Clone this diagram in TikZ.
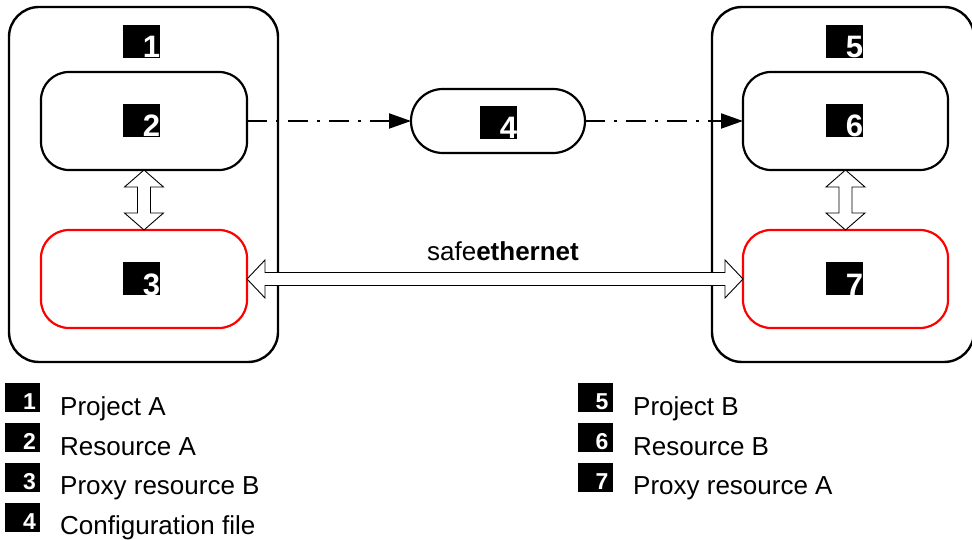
\documentclass[tikz,border=0pt]{standalone}
\usepackage{fontspec}
\setmainfont{Liberation Sans}
\usetikzlibrary{arrows.meta,calc}
\newcommand\bnum[1]{\makebox[37pt][r]{#1}}
\newcommand\lnum[1]{\makebox[35pt][r]{#1\hspace{4pt}}}
\begin{document}
\begin{tikzpicture}[x=1pt,y=-1pt,
  outerbox/.style={draw=black, line width=2.4pt, rounded corners=30pt, inner sep=0pt, outer sep=0pt, minimum height=355pt},
  innerbox/.style={draw=black, line width=2.2pt, rounded corners=28pt, inner sep=0pt, outer sep=0pt, minimum width=206pt, minimum height=98pt},
  proxybox/.style={innerbox, draw=red},
  filebox/.style={draw=black, line width=2.2pt, rounded corners=31.9pt, inner sep=0pt, outer sep=0pt, minimum width=174pt, minimum height=64pt},
  bignum/.style={fill=black, text=white, inner sep=0pt, outer sep=0pt, minimum width=37pt, minimum height=33pt, text height=33pt, text depth=0pt, font=\fontsize{31}{31}\selectfont\bfseries},
  legnum/.style={fill=black, text=white, inner sep=0pt, outer sep=0pt, minimum width=35pt, minimum height=29pt, text height=26pt, text depth=3pt, font=\fontsize{23}{23}\selectfont\bfseries},
  legtext/.style={anchor=base west, inner sep=0pt, font=\fontsize{26}{30}\selectfont},
  flow/.style={line width=2pt, dash pattern=on 20pt off 9pt on 3pt off 9pt, -{Triangle[length=22pt,width=15pt]}},
  hollow/.style={draw=black, fill=white, line width=0.9pt, line join=miter}
]
\useasboundingbox (0,0) rectangle (972,540);

% outer project boxes
\node[outerbox, minimum width=269pt] (p1) at (143.5,184.5) {};
\node[outerbox, minimum width=262pt] (p5) at (843,184.5) {};

% inner boxes
\node[innerbox] (b2) at (144,121) {};
\node[proxybox] (b3) at (144,279) {};
\node[innerbox, minimum width=205pt] (b6) at (845.5,121) {};
\node[proxybox, minimum width=205pt] (b7) at (845.5,279) {};
\node[filebox] (b4) at (498,121) {};

% number labels
\node[bignum] (n1) at (141.5,41.5) {\bnum{1}};
\node[bignum] (n2) at (141.5,120.5) {\bnum{2}};
\node[bignum] (n3) at (141.5,278.5) {\bnum{3}};
\node[bignum] (n4) at (498.5,122.5) {\bnum{4}};
\node[bignum] (n5) at (844.5,41.5) {\bnum{5}};
\node[bignum] (n6) at (844.5,120.5) {\bnum{6}};
\node[bignum] (n7) at (844.5,278.5) {\bnum{7}};

% dash-dot flow
\draw[flow] (b2.east) -- (b4.west);
\draw[flow] (b4.east) -- (b6.west);

% vertical hollow double arrows
\draw[hollow] (b2.south) -- ++(19.5,17) -- ++(-13,0) -- ++(0,26) -- ++(13,0) -- (b3.north)
  -- ++(-19.5,-17) -- ++(13,0) -- ++(0,-26) -- ++(-13,0) -- cycle;
\draw[hollow] (b6.south) -- ++(19.5,17) -- ++(-13,0) -- ++(0,26) -- ++(13,0) -- (b7.north)
  -- ++(-19.5,-17) -- ++(13,0) -- ++(0,-26) -- ++(-13,0) -- cycle;

% safeethernet hollow double arrow
\draw[hollow] (b3.east) -- ++(18,-19) -- ++(0,12.5) -- ($(b7.west)+(-18,-6.5)$) -- ++(0,-12.5)
  -- (b7.west) -- ++(-18,19) -- ++(0,-12.5) -- ($(b3.east)+(18,6.5)$) -- ++(0,12.5) -- cycle;
\node[anchor=base, inner sep=0pt, font=\fontsize{26}{30}\selectfont] (se) at (503,261) {safe\textbf{ethernet}};

% legend
\node[legnum] (l1) at (22.5,397.5) {\lnum{1}};
\node[legnum] (l2) at (22.5,437.5) {\lnum{2}};
\node[legnum] (l3) at (22.5,477.5) {\lnum{3}};
\node[legnum] (l4) at (22.5,517.5) {\lnum{4}};
\node[legtext] (t1) at (60,415) {Project A};
\node[legtext] (t2) at (60,455) {Resource A};
\node[legtext] (t3) at (60,494.5) {Proxy resource B};
\node[legtext] (t4) at (60,534) {Configuration file};

\node[legnum] (l5) at (595,397.5) {\lnum{5}};
\node[legnum] (l6) at (595,437.5) {\lnum{6}};
\node[legnum] (l7) at (595,477.5) {\lnum{7}};
\node[legtext] (t5) at (633,415) {Project B};
\node[legtext] (t6) at (633,455) {Resource B};
\node[legtext] (t7) at (633,494.5) {Proxy resource A};
\end{tikzpicture}
\end{document}
